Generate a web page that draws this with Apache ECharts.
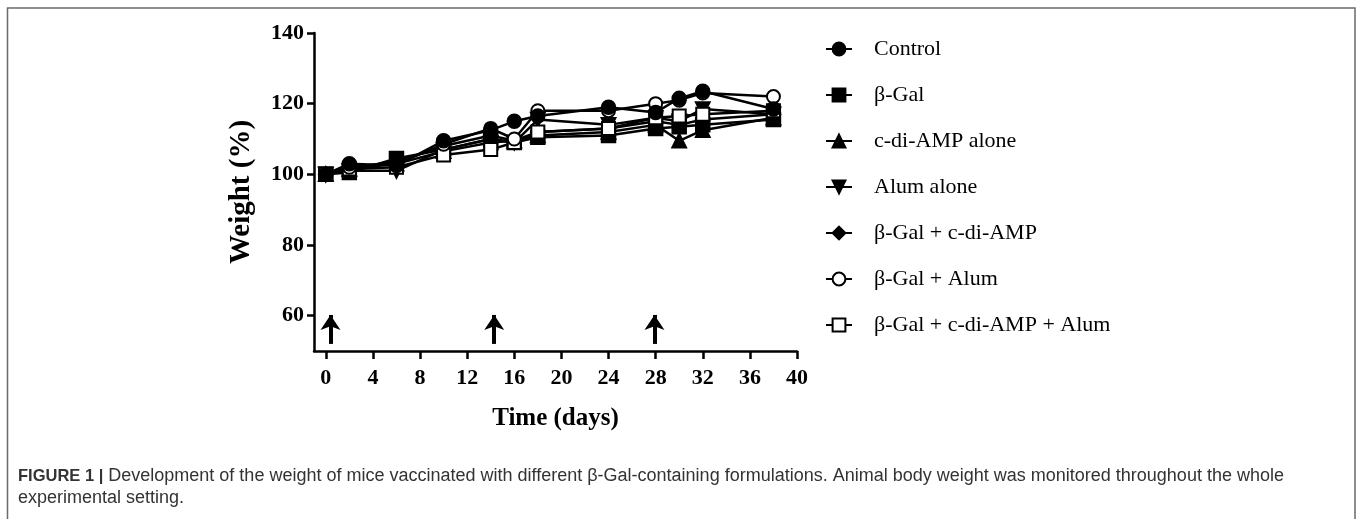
<!DOCTYPE html>
<html>
<head>
<meta charset="utf-8">
<script src="https://cdn.jsdelivr.net/npm/echarts@6.0.0/dist/echarts.min.js"></script>
<style>
  html, body { margin: 0; padding: 0; background: #fff; }
  #chart { width: 1357px; height: 519px; }
</style>
</head>
<body>
<div id="chart"></div>
<script>
// sampling days
var days = [0, 2, 6, 10, 14, 16, 18, 24, 28, 30, 32, 38];

// weight (%) per group
var control     = [100, 103, 102.5, 109.5, 112.5, 115, 116.5, 119, 117.5, 121.5, 123.5, 118.5];
var bGal        = [100, 100.5, 104.5, 107, 110, 109, 110.5, 111, 113, 113.5, 114, 115.5];
var cdiAmp      = [100, 101.5, 103, 106.5, 109, 109.5, 111, 112, 114, 109.5, 112.5, 116];
var alum        = [100, 101, 101, 107, 110, 109, 115.5, 114, 116, 115, 118.5, 117];
var bGalCdi     = [100, 102, 103.5, 108, 111, 109.5, 112, 113, 115, 114, 115.5, 117];
var bGalAlum    = [100, 102, 103, 108.5, 113, 110, 118, 118, 120, 121, 123, 122];
var bGalCdiAlum = [100, 101.5, 102, 105.5, 107, 109, 112, 113, 116, 116.5, 117, 118];

var seriesNames = ['Control', 'β-Gal', 'c-di-AMP alone', 'Alum alone',
  'β-Gal + c-di-AMP', 'β-Gal + Alum', 'β-Gal + c-di-AMP + Alum'];
var xTicks = [0, 4, 8, 12, 16, 20, 24, 28, 32, 36, 40];
var yTicks = [60, 80, 100, 120, 140];
// immunisation days (arrows)
var arrowDays = [0.4, 14.3, 27.9];

var chart = echarts.init(document.getElementById('chart'));

function pairs(vals) {
  return vals.map(function (v, i) { return [days[i], v]; });
}

function lineSeries(name, vals, symbol, rotate, z) {
  return {
    name: name,
    type: 'line',
    z: z || 2,
    data: pairs(vals),
    symbol: symbol,
    symbolSize: 13,
    symbolRotate: rotate || 0,
    showSymbol: true,
    lineStyle: { color: '#000', width: 2.5 },
    itemStyle: { color: '#000', borderColor: '#000', borderWidth: 2.5 },
    emphasis: { disabled: true },
    animation: false
  };
}

var serifBold = {
  fontFamily: 'Liberation Serif, Times New Roman, serif',
  fontWeight: 'bold',
  color: '#000'
};

var series = [
  lineSeries(seriesNames[0], control, 'circle', 0, 4),
  lineSeries(seriesNames[1], bGal, 'rect'),
  lineSeries(seriesNames[2], cdiAmp, 'triangle'),
  lineSeries(seriesNames[3], alum, 'triangle', 180),
  lineSeries(seriesNames[4], bGalCdi, 'diamond'),
  lineSeries(seriesNames[5], bGalAlum, 'emptyCircle', 0, 3),
  lineSeries(seriesNames[6], bGalCdiAlum, 'emptyRect')
];

// arrows
series.push({
  name: 'arrows',
  type: 'line',
  data: [],
  silent: true,
  animation: false,
  markLine: {
    silent: true,
    symbol: ['none', 'arrow'],
    symbolSize: 15,
    label: { show: false },
    lineStyle: { color: '#000', width: 4, type: 'solid' },
    emphasis: { disabled: true },
    data: arrowDays.map(function (d) {
      return [{ coord: [d, 52] }, { coord: [d, 60.2] }];
    })
  }
});

chart.setOption({
  backgroundColor: '#fff',
  animation: false,
  grid: { left: 314, right: 560, top: 33, bottom: 168 },
  xAxis: {
    type: 'value',
    min: -1,
    max: 40,
    name: 'Time (days)',
    nameLocation: 'middle',
    nameGap: 55,
    nameTextStyle: Object.assign({ fontSize: 25 }, serifBold),
    axisLine: { show: true, onZero: false, lineStyle: { color: '#000', width: 2.5 } },
    axisTick: { show: true, length: 8, customValues: xTicks, lineStyle: { color: '#000', width: 2.5 } },
    axisLabel: Object.assign({ fontSize: 22, margin: 16, customValues: xTicks }, serifBold),
    splitLine: { show: false }
  },
  yAxis: {
    type: 'value',
    min: 50,
    max: 140,
    name: 'Weight (%)',
    nameLocation: 'middle',
    nameRotate: 90,
    nameGap: 58,
    nameTextStyle: Object.assign({ fontSize: 29 }, serifBold),
    axisLine: { show: true, onZero: false, lineStyle: { color: '#000', width: 2.5 } },
    axisTick: { show: true, length: 7, customValues: yTicks, lineStyle: { color: '#000', width: 2.5 } },
    axisLabel: Object.assign({ fontSize: 22, margin: 10, customValues: yTicks }, serifBold),
    splitLine: { show: false }
  },
  legend: {
    data: seriesNames,
    orient: 'vertical',
    left: 825,
    top: 38,
    padding: 0,
    itemWidth: 26,
    itemHeight: 16,
    itemGap: 24,
    selectedMode: false,
    textStyle: {
      fontFamily: 'Liberation Serif, Times New Roman, serif',
      fontSize: 22,
      color: '#000',
      lineHeight: 18,
      padding: [0, 0, 0, 17]
    }
  },
  graphic: [
    {
      type: 'polyline',
      silent: true,
      shape: { points: [[7.5, 525], [7.5, 8], [1355, 8], [1355, 525]] },
      style: { stroke: '#6a6a6a', lineWidth: 1.5, fill: null }
    },
    {
      type: 'text',
      left: 18,
      top: 467,
      silent: true,
      style: {
        text: '{b|FIGURE 1 |} Development of the weight of mice vaccinated with different β-Gal-containing formulations. Animal body weight was monitored throughout the whole',
        fontFamily: 'Liberation Sans, Arial, sans-serif',
        fontSize: 18,
        fill: '#333',
        rich: { b: { fontFamily: 'Liberation Sans, Arial, sans-serif', fontSize: 16.5, fontWeight: 'bold', color: '#222' } }
      }
    },
    {
      type: 'text',
      left: 18,
      top: 489,
      silent: true,
      style: {
        text: 'experimental setting.',
        fontFamily: 'Liberation Sans, Arial, sans-serif',
        fontSize: 18,
        fill: '#333'
      }
    }
  ],
  series: series
});
</script>
</body>
</html>
